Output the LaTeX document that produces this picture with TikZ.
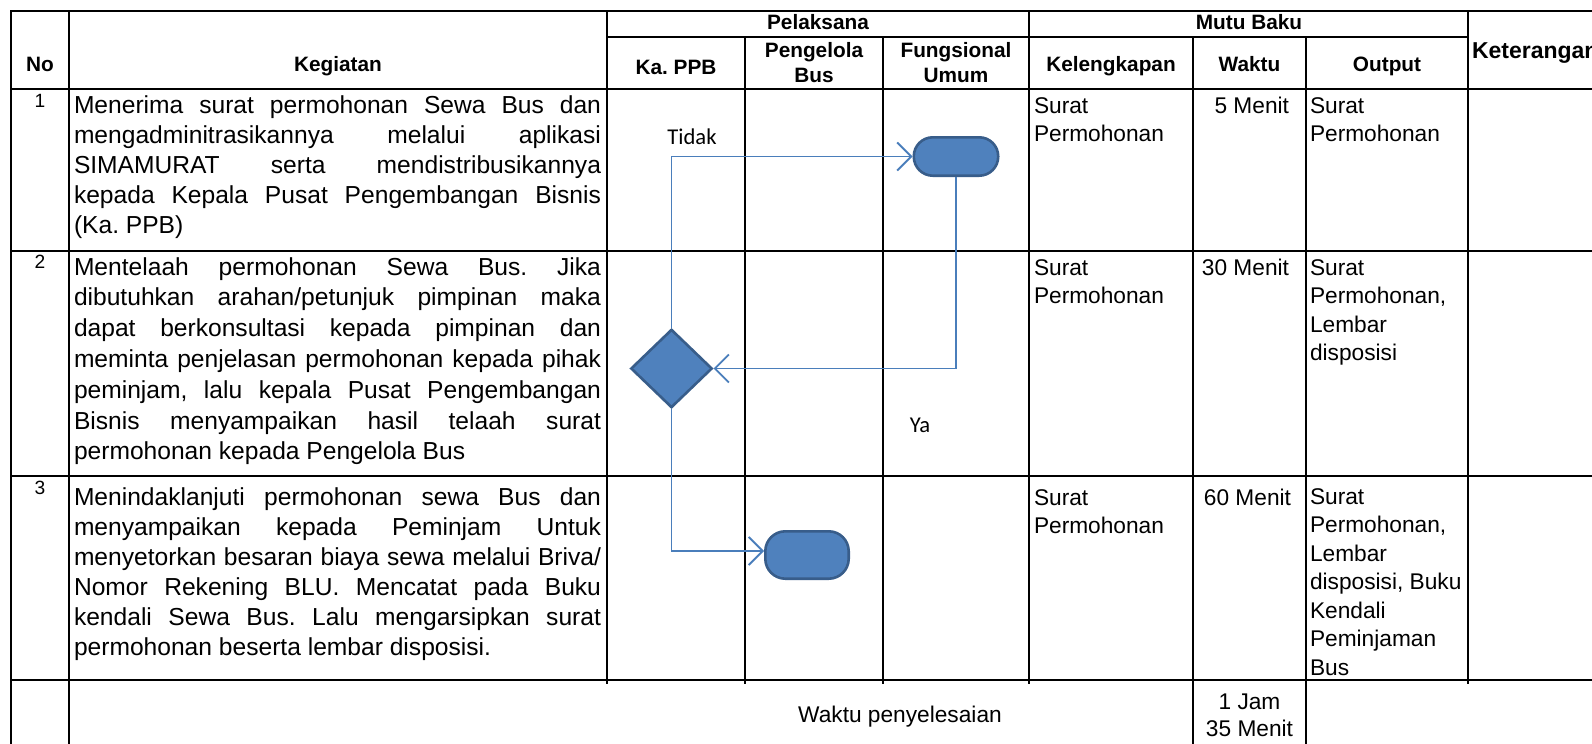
\documentclass[tikz,border=0pt]{standalone}
\usepackage{fontspec}
\setmainfont{Liberation Sans}
\newfontfamily\calfont{Carlito}
\usetikzlibrary{shapes.geometric,arrows.meta}
\definecolor{shapefill}{HTML}{4F81BD}
\definecolor{shapeedge}{HTML}{385D8A}
\definecolor{linkcol}{HTML}{4A7EBB}
\newcommand{\jl}[1]{\makebox[\linewidth][s]{#1}\\}
\newcommand{\lcol}[1]{\begin{tabular}[t]{@{}l@{}}#1\end{tabular}}
\newcommand{\ccol}[1]{\begin{tabular}[t]{@{}c@{}}#1\end{tabular}}
\frenchspacing
\begin{document}
\begin{tikzpicture}[x=0.5pt,y=-0.5pt,
  rule/.style={line width=1pt,black,line cap=rect},
  txt/.style={inner sep=0pt,outer sep=0pt},
  hd/.style={txt,font=\fontsize{10.4}{13}\selectfont\bfseries},
  bd/.style={txt,font=\fontsize{11.35}{14.25}\selectfont},
  kg/.style={txt,font=\fontsize{12.3}{15}\selectfont},
  num/.style={txt,font=\fontsize{9.6}{11}\selectfont},
  lbl/.style={txt,font=\calfont\fontsize{11.3}{13}\selectfont},
  term/.style={draw=shapeedge,fill=shapefill,line width=1.3pt,rectangle,inner sep=0pt},
  decision/.style={draw=shapeedge,fill=shapefill,line width=1.3pt,diamond,inner sep=0pt,minimum width=40.7pt,minimum height=39.2pt},
  link/.style={draw=linkcol,line width=0.95pt,-{Straight Barb[length=7pt,width=14pt]}}
]
\useasboundingbox (0,0) rectangle (1592,744);
\clip (0,0) rectangle (1592,744);
\fill[white] (0,0) rectangle (1592,744);

% grid
\draw[rule] (11,11) -- (1592,11);
\draw[rule] (607,37) -- (1468,37);
\draw[rule] (11,89) -- (1592,89);
\draw[rule] (11,251) -- (1592,251);
\draw[rule] (11,476) -- (1592,476);
\draw[rule] (11,680) -- (1592,680);
\draw[rule] (11,11) -- (11,744);
\draw[rule] (69,11) -- (69,744);
\draw[rule] (607,11) -- (607,683);
\draw[rule] (745,37) -- (745,683);
\draw[rule] (883,37) -- (883,683);
\draw[rule] (1029,11) -- (1029,683);
\draw[rule] (1193,37) -- (1193,744);
\draw[rule] (1306,37) -- (1306,744);
\draw[rule] (1468,11) -- (1468,683);

% headers
\node[hd,anchor=base] (hNo) at (40,71) {No};
\node[hd,anchor=base] (hKeg) at (338,71) {Kegiatan};
\node[hd,anchor=base] (hPel) at (818,29) {Pelaksana};
\node[hd,anchor=base] (hMutu) at (1249,29) {Mutu Baku};
\node[hd,anchor=base] (hKa) at (676,74) {Ka. PPB};
\node[hd,anchor=base] (hPB) at (814,57) {\ccol{Pengelola\\Bus}};
\node[hd,anchor=base] (hFU) at (956,57) {\ccol{Fungsional\\Umum}};
\node[hd,anchor=base] (hKel) at (1111,71) {Kelengkapan};
\node[hd,anchor=base] (hWak) at (1249.5,71) {Waktu};
\node[hd,anchor=base] (hOut) at (1387,71) {Output};
\node[hd,anchor=base west,font=\fontsize{11.5}{13}\selectfont\bfseries] (hKet) at (1472,58) {Keterangan};

% numbers
\node[num,anchor=base] (n1) at (40,107) {1};
\node[num,anchor=base] (n2) at (40,268) {2};
\node[num,anchor=base] (n3) at (40,494) {3};

% kegiatan
\node[kg,anchor=base west] (k1) at (74,113) {\parbox[t]{263.5pt}{\baselineskip=15pt
\jl{Menerima surat permohonan Sewa Bus dan}
\jl{mengadminitrasikannya melalui aplikasi}
\jl{SIMAMURAT serta mendistribusikannya}
\jl{kepada Kepala Pusat Pengembangan Bisnis}
(Ka. PPB)}};
\node[kg,anchor=base west] (k2) at (74,275) {\parbox[t]{263.5pt}{\baselineskip=15.4pt
\jl{Mentelaah permohonan Sewa Bus. Jika}
\jl{dibutuhkan arahan/petunjuk pimpinan maka}
\jl{dapat berkonsultasi kepada pimpinan dan}
\jl{meminta penjelasan permohonan kepada pihak}
\jl{peminjam, lalu kepala Pusat Pengembangan}
\jl{Bisnis menyampaikan hasil telaah surat}
permohonan kepada Pengelola Bus}};
\node[kg,anchor=base west] (k3) at (74,505) {\parbox[t]{263.5pt}{\baselineskip=15pt
\jl{Menindaklanjuti permohonan sewa Bus dan}
\jl{menyampaikan kepada Peminjam Untuk}
\jl{menyetorkan besaran biaya sewa melalui Briva/}
\jl{Nomor Rekening BLU. Mencatat pada Buku}
\jl{kendali Sewa Bus. Lalu mengarsipkan surat}
permohonan beserta lembar disposisi.}};

% kelengkapan
\node[bd,anchor=base west] (kl1) at (1034,113) {\lcol{Surat\\Permohonan}};
\node[bd,anchor=base west] (kl2) at (1034,275) {\lcol{Surat\\Permohonan}};
\node[bd,anchor=base west] (kl3) at (1034,505) {\lcol{Surat\\Permohonan}};

% waktu
\node[bd,anchor=base east] (w1) at (1289,113) {5 Menit};
\node[bd,anchor=base east] (w2) at (1289,275) {30 Menit};
\node[bd,anchor=base east] (w3) at (1291,505) {60 Menit};

% output
\node[bd,anchor=base west] (o1) at (1310,113) {\lcol{Surat\\Permohonan}};
\node[bd,anchor=base west] (o2) at (1310,275) {\lcol{Surat\\Permohonan,\\Lembar\\disposisi}};
\node[bd,anchor=base west] (o3) at (1310,504) {\lcol{Surat\\Permohonan,\\Lembar\\disposisi, Buku\\Kendali\\Peminjaman\\Bus}};

% total row
\node[bd,anchor=base] (tot) at (900,722) {Waktu penyelesaian};
\node[bd,anchor=base,font=\fontsize{11.35}{13.75}\selectfont] (totw) at (1249.5,709) {\ccol{1 Jam\\35 Menit}};

% flow shapes
\node[term,minimum width=42.2pt,minimum height=19.2pt,rounded corners=9.5pt] (t1) at (956,156.5) {};
\node[decision] (dia) at (671.5,368.5) {};
\node[term,minimum width=41.7pt,minimum height=23.7pt,rounded corners=10pt] (t2) at (807,555) {};

% connectors
\draw[link] (dia.north) |- (t1.west);
\draw[link] (t1.south) |- (dia.east);
\draw[link] (dia.south) |- ([yshift=2pt]t2.west);

% labels
\node[lbl,anchor=base] (lTidak) at (692,144) {Tidak};
\node[lbl,anchor=base] (lYa) at (920,432) {Ya};
\end{tikzpicture}
\end{document}
